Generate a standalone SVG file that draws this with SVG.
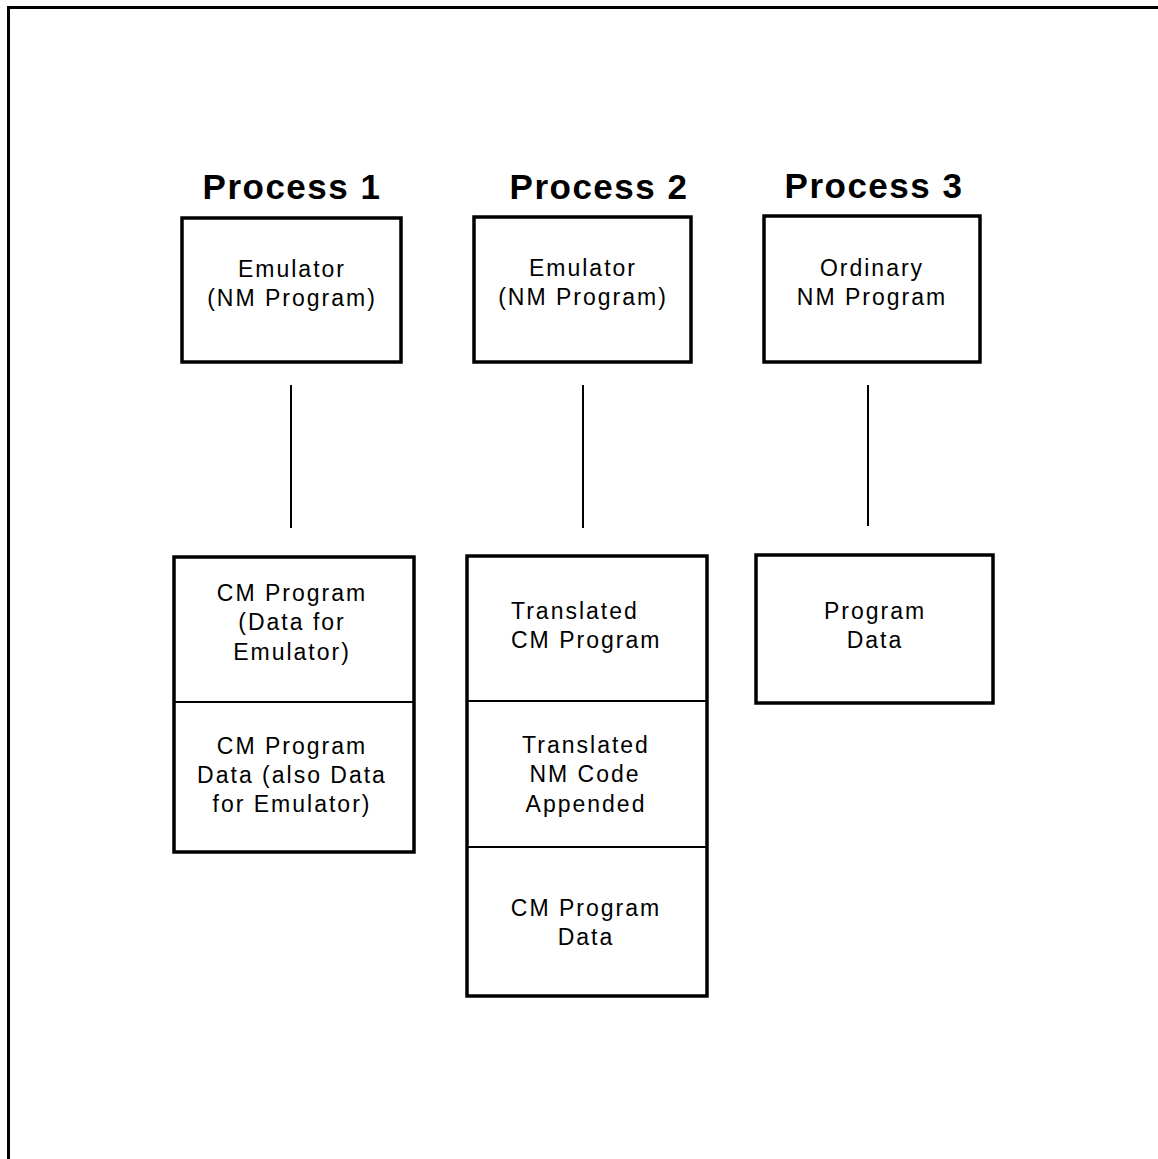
<svg xmlns="http://www.w3.org/2000/svg" width="1158" height="1159" viewBox="0 0 1158 1159">
<style>
.box{fill:none;stroke:#000;stroke-width:3.5}
.div{stroke:#000;stroke-width:2}
.con{stroke:#000;stroke-width:2}
.frame{stroke:#000;stroke-width:3;fill:none}
.t{font-family:"Liberation Sans",Arial,sans-serif;font-size:23px;letter-spacing:2px;text-anchor:middle;fill:#000}
.tl{font-family:"Liberation Sans",Arial,sans-serif;font-size:23px;letter-spacing:2px;text-anchor:start;fill:#000}
.h{font-family:"Liberation Sans",Arial,sans-serif;font-size:35px;font-weight:bold;letter-spacing:1.5px;text-anchor:middle;fill:#000}
</style>
<rect width="1158" height="1159" fill="#fff"/>
<path class="frame" d="M8.5 1159 V7.5 H1158"/>
<g id="title1"><text class="h" x="292" y="199">Process 1</text></g>
<g id="title2"><text class="h" x="599" y="199">Process 2</text></g>
<g id="title3"><text class="h" x="874" y="198">Process 3</text></g>
<g id="p1-emulator">
<rect class="box" x="182" y="218" width="219" height="144"/>
<text class="t" x="292" y="277">Emulator</text>
<text class="t" x="292" y="306">(NM Program)</text>
</g>
<g id="p2-emulator">
<rect class="box" x="474" y="217" width="217" height="145"/>
<text class="t" x="583" y="276">Emulator</text>
<text class="t" x="583" y="305">(NM Program)</text>
</g>
<g id="p3-ordinary">
<rect class="box" x="764" y="216" width="216" height="146"/>
<text class="t" x="872" y="276">Ordinary</text>
<text class="t" x="872" y="305">NM Program</text>
</g>
<g id="connectors">
<line class="con" x1="291" y1="385" x2="291" y2="528"/>
<line class="con" x1="583" y1="385" x2="583" y2="528"/>
<line class="con" x1="868" y1="385" x2="868" y2="526"/>
</g>
<g id="p1-memory">
<rect class="box" x="174" y="557" width="240" height="295"/>
<line class="div" x1="174" y1="702" x2="414" y2="702"/>
<text class="t" x="292" y="601">CM Program</text>
<text class="t" x="292" y="630">(Data for</text>
<text class="t" x="292" y="660">Emulator)</text>
<text class="t" x="292" y="754">CM Program</text>
<text class="t" x="292" y="783">Data (also Data</text>
<text class="t" x="292" y="812">for Emulator)</text>
</g>
<g id="p2-memory">
<rect class="box" x="467" y="556" width="240" height="440"/>
<line class="div" x1="467" y1="701" x2="707" y2="701"/>
<line class="div" x1="467" y1="847" x2="707" y2="847"/>
<text class="tl" x="511" y="619">Translated</text>
<text class="tl" x="511" y="648">CM Program</text>
<text class="t" x="586" y="753">Translated</text>
<text class="t" x="585" y="782">NM Code</text>
<text class="t" x="586" y="812">Appended</text>
<text class="t" x="586" y="916">CM Program</text>
<text class="t" x="586" y="945">Data</text>
</g>
<g id="p3-memory">
<rect class="box" x="756" y="555" width="237" height="148"/>
<text class="t" x="875" y="619">Program</text>
<text class="t" x="875" y="648">Data</text>
</g>
</svg>
